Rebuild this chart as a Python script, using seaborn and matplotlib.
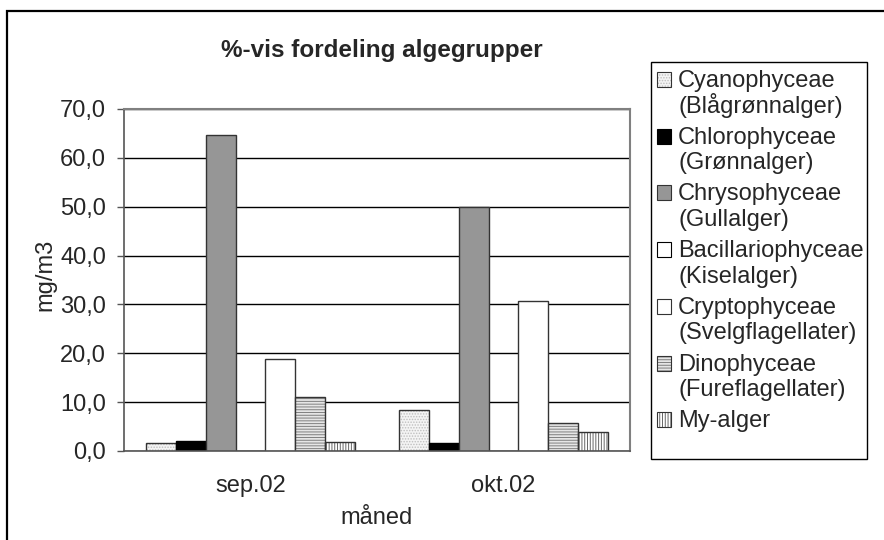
import numpy as np
import pandas as pd
import seaborn as sns
import matplotlib.pyplot as plt
from matplotlib.patches import Rectangle
from matplotlib.ticker import FuncFormatter

months = ["sep.02", "okt.02"]
groups = ["Cyanophyceae\n(Blågrønnalger)", "Chlorophyceae\n(Grønnalger)",
          "Chrysophyceae\n(Gullalger)", "Bacillariophyceae\n(Kiselalger)",
          "Cryptophyceae\n(Svelgflagellater)", "Dinophyceae\n(Fureflagellater)",
          "My-alger"]
sep_vals = [1.6, 2.0, 64.7, 0.0, 18.9, 11.0, 1.9]
okt_vals = [8.3, 1.6, 49.9, 0.1, 30.8, 5.7, 3.8]

faces = ["#f4f4f4", "#000000", "#969696", "#ffffff", "#ffffff", "#e6e6e6", "#ffffff"]
hatches = ["......", None, None, None, None, "------", "||||||"]
hatch_cols = [(0.75, 0.75, 0.75, 1), None, None, None, None,
              (0.5, 0.5, 0.5, 1), (0.4, 0.4, 0.4, 1)]
edges = ["#333333", "#000000", "#333333", "#000000", "#333333", "#333333", "#333333"]

df = pd.DataFrame({
    "month": np.repeat(months, len(groups)),
    "group": groups * 2,
    "value": sep_vals + okt_vals,
})

sns.set_style("white")
plt.rcParams['font.family'] = ['Liberation Sans', 'DejaVu Sans']
plt.rcParams['hatch.linewidth'] = 0.7

W, H = 884, 540
fig = plt.figure(figsize=(W / 100, H / 100), dpi=100)
ax = fig.add_axes([124 / W, 1 - 451 / H, 506 / W, 342 / H])

sns.barplot(data=df, x="month", y="value", hue="group", hue_order=groups,
            order=months, palette=faces, width=0.83, saturation=1,
            edgecolor="black", linewidth=1.0, legend=False, ax=ax)

for i, cont in enumerate(ax.containers):
    for p in cont.patches:
        p.set_facecolor(faces[i])
        p.set_edgecolor(edges[i])
        if hatches[i]:
            p.set_hatch(hatches[i])
            p._hatch_color = hatch_cols[i]

ax.set_xlim(-0.5, 1.5)
ax.set_ylim(0, 70)
ax.set_yticks(np.arange(0, 71, 10))
ax.yaxis.set_major_formatter(FuncFormatter(lambda v, _: f"{v:.1f}".replace(".", ",")))
ax.set_axisbelow(True)
ax.grid(axis="y", color="black", linewidth=1.0)
ax.tick_params(axis="y", direction="out", length=5, width=1, color="#555555",
               labelsize=17, pad=8, left=True)
ax.set_xticks([-0.5, 0.5, 1.5], minor=True)
ax.tick_params(axis="x", which="major", length=0, labelsize=17, pad=17)
ax.tick_params(axis="x", which="minor", direction="out", length=5, width=1, color="#555555")
for s in ["left", "bottom"]:
    ax.spines[s].set_color("#555555")
    ax.spines[s].set_linewidth(1.2)
for s in ["top", "right"]:
    ax.spines[s].set_color("#808080")
    ax.spines[s].set_linewidth(1.5)

ax.set_xlabel("måned", fontsize=17)
ax.set_ylabel("mg/m3", fontsize=17)
ax.xaxis.set_label_coords(0.5, -(518 - 451) / 342)
ax.xaxis.label.set_va("center")
ax.yaxis.set_label_coords((45 - 124) / 506, (451 - 275) / 342)
ax.yaxis.label.set_va("center")

fig.text(382 / W, 1 - 50 / H, "%-vis fordeling algegrupper", ha="center", va="center",
         fontsize=17.5, fontweight="bold")

# legend, drawn by hand so the key square sits on the first text line
fig.add_artist(Rectangle((651 / W, 1 - 459 / H), 216 / W, 397 / H, transform=fig.transFigure,
                         facecolor="white", edgecolor="black", linewidth=1.0))
for i, label in enumerate(groups):
    base = 87 + 56.7 * i
    sq = Rectangle((657 / W, 1 - base / H), 14 / W, 15 / H, transform=fig.transFigure,
                   facecolor=faces[i], edgecolor=edges[i], linewidth=0.8, hatch=hatches[i])
    if hatches[i]:
        sq._hatch_color = hatch_cols[i]
    fig.add_artist(sq)
    for j, line in enumerate(label.split("\n")):
        fig.text(678 / W, 1 - (base + 25.5 * j) / H, line, ha="left", va="baseline",
                 fontsize=17)

# outer chart frame
fig.add_artist(Rectangle((7 / W, -0.1), 1.2, 1 - 11 / H + 0.1, transform=fig.transFigure,
                         facecolor="none", edgecolor="black", linewidth=1.6))

fig.savefig("out.png", dpi=100)
